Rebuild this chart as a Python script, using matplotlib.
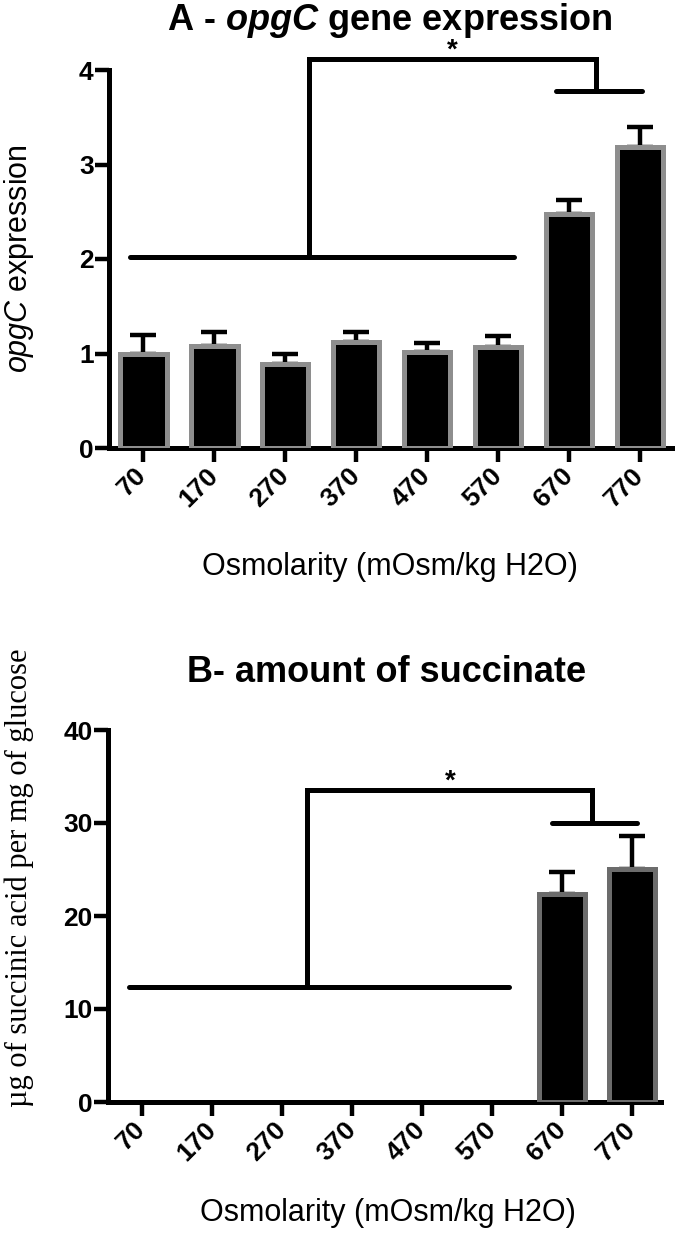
import numpy as np
import matplotlib
matplotlib.use("Agg")
import matplotlib.pyplot as plt

plt.rcParams['font.family'] = ['Liberation Sans', 'DejaVu Sans']
plt.rcParams['mathtext.fontset'] = 'custom'
plt.rcParams['mathtext.rm'] = 'Liberation Sans'
plt.rcParams['mathtext.it'] = 'Liberation Sans:italic'
plt.rcParams['mathtext.bf'] = 'Liberation Sans:bold'
plt.rcParams['mathtext.bfit'] = 'Liberation Sans:bold:italic'

# ---------------- data ----------------
categories = ["70", "170", "270", "370", "470", "570", "670", "770"]
opgc_expr = [1.00, 1.08, 0.89, 1.12, 1.02, 1.07, 2.48, 3.18]
opgc_err = [0.20, 0.15, 0.11, 0.11, 0.09, 0.11, 0.14, 0.22]
succ_amount = [np.nan, np.nan, np.nan, np.nan, np.nan, np.nan, 22.4, 25.1]
succ_err = [np.nan, np.nan, np.nan, np.nan, np.nan, np.nan, 2.3, 3.5]

# significance brackets
brkA_low = (-0.18, 5.22, 2.02)
brkA_top = (2.34, 6.38, 4.12)
brkA_high = (5.82, 7.03, 3.78)
brkB_low = (-0.19, 5.24, 12.4)
brkB_top = (2.36, 6.43, 33.5)
brkB_high = (5.86, 7.07, 30.0)

fig = plt.figure(figsize=(6.75, 12.35), dpi=100)
W, H = 675, 1235

axA = fig.add_axes([109 / W, 1 - 448 / H, 563 / W, 378 / H])
axB = fig.add_axes([108 / W, 1 - 1102 / H, 553 / W, 372 / H])


def style(ax, xlim, ylim, yticks):
    for s in ['top', 'right']:
        ax.spines[s].set_visible(False)
    for s in ['left', 'bottom']:
        ax.spines[s].set_linewidth(3.6)
    ax.set_xlim(*xlim)
    ax.set_ylim(*ylim)
    ax.set_yticks(yticks)
    ax.set_yticklabels([str(t) for t in yticks], fontsize=19, fontweight='bold')
    ax.set_xticks(np.arange(len(categories)))
    ax.set_xticklabels(categories, rotation=45, ha='right', va='center',
                       rotation_mode='anchor', fontsize=19, fontweight='bold')
    ax.tick_params(axis='both', direction='out', length=10, width=3.2)
    ax.tick_params(axis='y', pad=1)
    ax.tick_params(axis='x', pad=7)


def draw(ax, vals, errs, edge, low, top, high, star_y):
    x = np.arange(len(categories))
    v = np.array(vals, dtype=float)
    e = np.array(errs, dtype=float)
    m = ~np.isnan(v)
    ax.bar(x[m], v[m], width=0.66, color='black', edgecolor=edge,
           linewidth=3.6, zorder=3)
    ax.errorbar(x[m], v[m], yerr=[np.zeros(m.sum()), e[m]], fmt='none',
                ecolor='black', elinewidth=3.2, capsize=9.5, capthick=3.2,
                zorder=2)
    lw = 3.6
    ax.plot([low[0], low[1]], [low[2], low[2]], color='black', lw=lw,
            solid_capstyle='round', clip_on=False, zorder=4)
    ax.plot([high[0], high[1]], [high[2], high[2]], color='black', lw=lw,
            solid_capstyle='round', clip_on=False, zorder=4)
    ax.plot([top[0], top[0], top[1], top[1]],
            [low[2], top[2], top[2], high[2]], color='black', lw=lw,
            solid_joinstyle='miter', clip_on=False, zorder=4)
    ax.text((top[0] + top[1]) / 2, star_y, '*', ha='center', va='center',
            fontsize=20, fontweight='bold', clip_on=False)


style(axA, (-0.48, 7.45), (0, 4), [0, 1, 2, 3, 4])
draw(axA, opgc_expr, opgc_err, '#8e8e8e', brkA_low, brkA_top, brkA_high, 4.20)
axA.set_ylabel(r'$\mathit{opgC}$ expression', fontsize=22)
axA.yaxis.set_label_coords(-0.13, 0.5)

style(axB, (-0.486, 7.41), (0, 40), [0, 10, 20, 30, 40])
draw(axB, succ_amount, succ_err, '#6c6c6c', brkB_low, brkB_top, brkB_high, 34.5)

fig.text(390 / W, 1 - 20 / H, r'A - $\mathbfit{opgC}$ gene expression',
         ha='center', va='center', fontsize=26, fontweight='bold')
fig.text(390 / W, 1 - 567 / H, 'Osmolarity (mOsm/kg H2O)', ha='center',
         va='center', fontsize=22)
fig.text(387 / W, 1 - 673 / H, 'B- amount of succinate', ha='center',
         va='center', fontsize=26, fontweight='bold')
fig.text(388 / W, 1 - 1213 / H, 'Osmolarity (mOsm/kg H2O)', ha='center',
         va='center', fontsize=22)
fig.text(19 / W, 1 - 878 / H, 'µg of succinic acid per mg of glucose',
         ha='center', va='center', rotation=90, fontsize=22,
         family=['Liberation Serif', 'DejaVu Serif'])

fig.savefig('out.png', dpi=100)
